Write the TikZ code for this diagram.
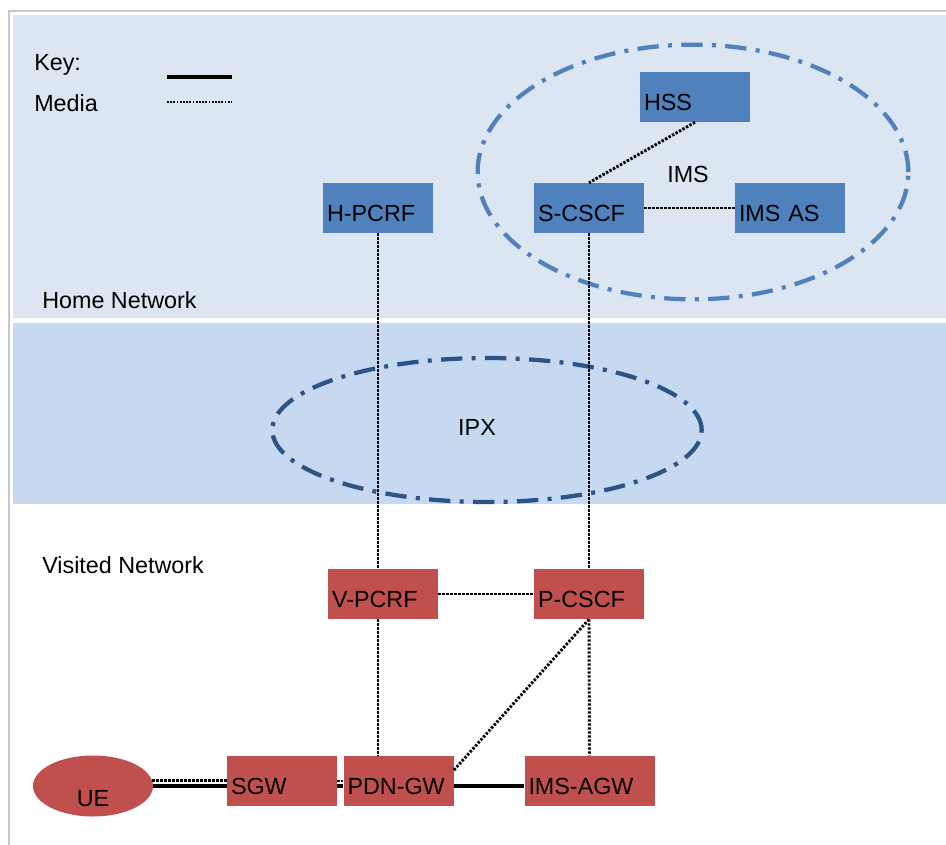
\documentclass[tikz,border=0pt]{standalone}
\usepackage{fontspec}
\setmainfont{Liberation Sans}
\usetikzlibrary{shapes.geometric}
\definecolor{homefill}{HTML}{DCE6F2}
\definecolor{ipxfill}{HTML}{C6D9F1}
\definecolor{boxblue}{HTML}{4F81BD}
\definecolor{boxred}{HTML}{C0504D}
\definecolor{imsline}{HTML}{4F81BD}
\definecolor{ipxline}{HTML}{2A5586}
\definecolor{frameline}{HTML}{C8C8C8}
\begin{document}
\begin{tikzpicture}[x=0.75pt, y=-0.75pt, font=\fontsize{17.5}{20}\selectfont,
  box/.style={rectangle, minimum width=82.5pt, minimum height=37.5pt, text width=76.5pt,
    align=left, inner xsep=3pt, inner ysep=0pt, text height=20.8pt, text depth=0pt},
  homebox/.style={box, fill=boxblue},
  visitbox/.style={box, fill=boxred},
  tag/.style={anchor=base west, inner sep=0pt},
  ring/.style={ellipse, draw, line width=3.2pt, dash pattern=on 16pt off 7pt on 3pt off 7pt, inner sep=0pt},
  media/.style={line width=2.2pt, dash pattern=on 1.8pt off 1.2pt},
  link/.style={line width=2.4pt}]

\useasboundingbox (0,0) rectangle (946,845);
\fill[white] (0,0) rectangle (946,845);

% bands
\fill[homefill] (13,15) rectangle (946,318);
\fill[ipxfill] (13,323) rectangle (946,504);
\draw[frameline, line width=1.5pt] (9,845) -- (9,11) -- (946,11);

% key
\node[tag] (key) at (34,71) {Key:};
\node[tag] (media) at (34,112) {Media};
\coordinate (k1) at (167,77);
\coordinate (k2) at (232,77);
\coordinate (k3) at (167,102);
\coordinate (k4) at (232,102);
\draw[link] (k1)--(k2);
\draw[line width=1.8pt, dash pattern=on 1.4pt off 1pt] (k3)--(k4);

\node[tag] (home) at (42,308) {Home Network};
\node[tag] (visited) at (42,573) {Visited Network};

% rings
\node[ring, imsline, minimum width=323pt, minimum height=191pt] (imsring) at (693,172) {};
\node[ring, ipxline, minimum width=322pt, minimum height=108pt] (ipxring) at (487,430) {};
\node[anchor=base] (ims) at (688,183) {IMS};
\node[anchor=base] (ipx) at (477,435) {IPX};

% home network
\node[homebox] (hss) at (695,97) {HSS};
\node[homebox] (hpcrf) at (378,208) {H-PCRF};
\node[homebox] (scscf) at (589,208) {S-CSCF};
\node[homebox] (imsas) at (790,208) {IMS AS};

% visited network
\node[visitbox] (vpcrf) at (383,594) {V-PCRF};
\node[visitbox] (pcscf) at (589,594) {P-CSCF};
\node[visitbox] (sgw) at (282,781) {SGW};
\node[visitbox] (pdngw) at (398.5,781) {PDN-GW};
\node[visitbox, minimum width=97.5pt, text width=91.5pt] (imsagw) at (589.5,781) {IMS-AGW};
\node[ellipse, fill=boxred, minimum width=90pt, minimum height=45.75pt, inner sep=0pt] (ue) at (93,786)
  {\raisebox{-15.3pt}[0pt][0pt]{UE}};

\begin{scope}[media]
\draw (hss.south)--(scscf.north);
\draw (scscf.east)--(imsas.west);
\draw (hpcrf.south)--(hpcrf.south |- vpcrf.north);
\draw (hpcrf.south |- vpcrf.south)--(hpcrf.south |- pdngw.north);
\draw (scscf.south)--(pcscf.north);
\draw (pcscf.south)--(imsagw.north);
\draw (vpcrf.east)--(pcscf.west);
\draw (pcscf.south)--(pdngw.11);
\draw (ue.5)--(ue.5 -| sgw.west);
\draw (sgw.east)--(pdngw.west);
\end{scope}
\begin{scope}[link]
\draw (ue.east)--(ue.east -| sgw.west);
\draw (sgw.east |- ue.east)--(pdngw.west |- ue.east);
\draw (pdngw.east |- ue.east)--(imsagw.west |- ue.east);
\end{scope}
\end{tikzpicture}
\end{document}
